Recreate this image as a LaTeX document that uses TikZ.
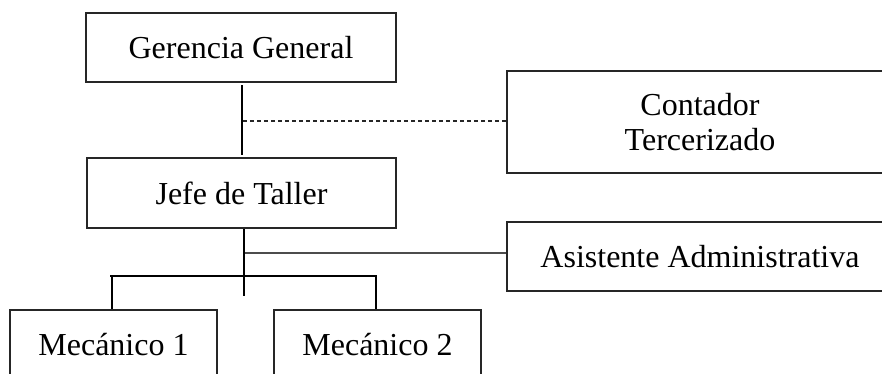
\documentclass[tikz,border=0pt]{standalone}
\usepackage{fontspec}
\setmainfont{Liberation Serif}
\begin{document}
\begin{tikzpicture}[x=1pt,y=-1pt,
  box/.style={draw=black!85,line width=1.1pt,rectangle,inner sep=0pt,align=center,
    font=\fontsize{32}{35}\selectfont},
  thickline/.style={line width=2.3pt,black},
  thinline/.style={line width=1.1pt,black!70},
  dashline/.style={line width=1.1pt,black!85,dash pattern=on 4pt off 3pt}]
\clip (0,0) rectangle (882,373);
\fill[white] (0,0) rectangle (882,373);
\node[box,minimum width=310pt,minimum height=69pt] (gg) at (241,47.5) {Gerencia General};
\node[box,minimum width=309pt,minimum height=70pt] (jt) at (241.5,193) {Jefe de Taller};
\node[box,minimum width=386pt,minimum height=102pt] (ct) at (700,122) {Contador\\Tercerizado};
\node[box,minimum width=386pt,minimum height=69pt] (aa) at (700,256.5) {Asistente Administrativa};
\node[box,minimum width=207pt,minimum height=70pt] (m1) at (113.5,345) {Mecánico 1};
\node[box,minimum width=207pt,minimum height=70pt] (m2) at (377.5,345) {Mecánico 2};
\coordinate (gt) at (242,85);
\coordinate (gb) at (242,155);
\coordinate (dj) at (243,121);
\coordinate (jtop) at (244,229);
\coordinate (jbot) at (244,296);
\coordinate (aj) at (245,253);
\coordinate (bl) at (110,276);
\coordinate (br) at (377,276);
\draw[thickline] (gt) -- (gb);
\draw[dashline] (dj) -- (ct.west |- dj);
\draw[thickline] (jtop) -- (jbot);
\draw[thinline] (aj) -- (aa.west |- aj);
\draw[thickline] (bl) -- (br);
\draw[thickline] (112,276) -- (m1.north -| 112,0);
\draw[thickline] (376,276) -- (m2.north -| 376,0);
\end{tikzpicture}
\end{document}
